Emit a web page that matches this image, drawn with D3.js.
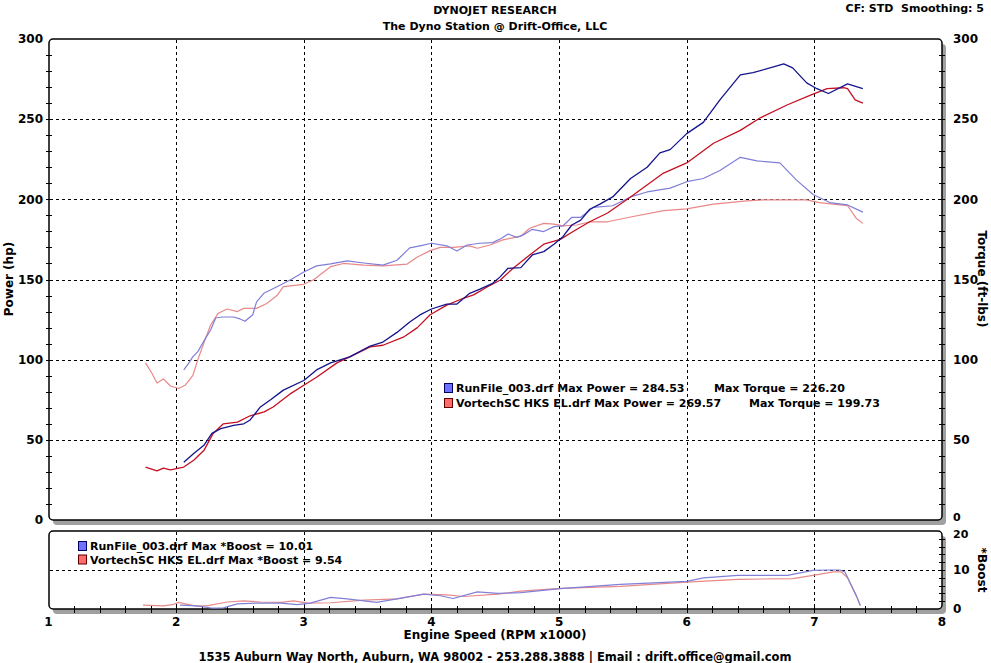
<!DOCTYPE html>
<html><head><meta charset="utf-8">
<script src="https://cdn.jsdelivr.net/npm/d3@7"></script>
<style>
html,body{margin:0;padding:0;background:#fff;}
svg{display:block;}
text{font-family:"DejaVu Sans",Verdana,sans-serif;font-weight:bold;fill:#000;}
</style></head>
<body><svg id="c" width="991" height="663"></svg>
<script>
// ---- data (rpm x1000, value) ----
const runHpRpm = [2.06,2.14,2.22,2.28,2.35,2.45,2.53,2.58,2.66,2.74,2.84,3.0,3.10,3.21,3.36,3.52,3.62,3.73,3.83,3.91,4.0,4.12,4.2,4.30,4.38,4.48,4.54,4.60,4.70,4.79,4.88,4.96,5.03,5.10,5.17,5.24,5.32,5.42,5.56,5.69,5.79,5.87,6.0,6.13,6.26,6.42,6.52,6.68,6.76,6.83,6.94,7.02,7.11,7.26,7.38];
const runHp = [36,41.6,46.8,54,57,59,60,62.4,70.5,75,81,87,93.6,98,101.7,108.5,111,117,123.5,127.9,131.6,134.7,134.7,141.4,144,147.6,151.8,157,157.4,165.3,167.4,172,176.7,184,187,193.8,197,201.5,213,220,229,231,241,248,262,277.6,279,282.6,284.5,282,272.6,269,266,272,269];

const runTqRpm = [2.06,2.10,2.13,2.17,2.22,2.27,2.31,2.36,2.45,2.50,2.54,2.60,2.63,2.69,2.79,2.90,3.0,3.10,3.21,3.34,3.47,3.62,3.73,3.83,3.91,4.0,4.12,4.2,4.28,4.38,4.48,4.55,4.6,4.67,4.72,4.79,4.88,4.96,5.03,5.10,5.17,5.27,5.42,5.56,5.69,5.87,6.0,6.13,6.26,6.42,6.55,6.73,6.86,6.99,7.12,7.26,7.38];
const runTq = [93.6,98,101.7,105,112,118.5,126,126.6,126.6,125.4,124,128,136,141.6,145.5,150,154.7,158.5,159.7,161.6,160.3,159,162,169.7,171,172.6,171,167.8,171.5,172.6,173,175.7,178.4,176.3,177.8,181.3,179.9,183,183.4,188.8,188.8,195,196,201.5,204.6,207,211,213,218,226.2,224,222.7,212,203,198,196.5,192];

const vorHpRpm = [1.76,1.85,1.90,1.955,2.06,2.14,2.22,2.29,2.37,2.48,2.58,2.69,2.76,2.90,3.0,3.10,3.26,3.36,3.52,3.62,3.78,3.89,3.99,4.12,4.25,4.33,4.44,4.54,4.64,4.77,4.88,5.01,5.11,5.24,5.38,5.56,5.81,6.0,6.21,6.42,6.58,6.79,6.97,7.10,7.23,7.26,7.32,7.38];
const vorHp = [33,30.6,32.4,31.2,33,37.4,43.7,54,60,61,65,67.4,70.5,79,84,89,98,101.7,108,109,114,120,128,134,138.3,140.4,145.5,149.7,157,165.3,172,175,179.9,186,191.5,201.5,216,222.7,235,243,251,259,265,269,269.6,269,262,260];

const vorTqRpm = [1.76,1.81,1.85,1.90,1.955,2.02,2.07,2.13,2.17,2.22,2.27,2.33,2.40,2.48,2.53,2.63,2.71,2.79,2.84,3.0,3.08,3.21,3.31,3.47,3.62,3.81,3.89,3.99,4.07,4.17,4.30,4.36,4.46,4.56,4.70,4.77,4.88,4.96,5.03,5.14,5.24,5.38,5.56,5.82,6.0,6.21,6.47,6.60,6.94,7.04,7.20,7.26,7.33,7.38];
const vorTq = [98,91.5,85.5,88,83.6,82,84,90,100,111,121.6,129,131.6,130,132,132,135,140,145.5,147,150,158,160,159,158.5,159.6,164,168,170,170,171,169.5,171.5,174.7,177,182,185,184.5,183.4,184,186,186,189,193,194,197,199,199.7,199.7,198,196.5,196,188,185];

const runBoostRpm = [2.03,2.16,2.29,2.37,2.48,2.63,2.82,2.95,3.05,3.21,3.34,3.57,3.73,3.94,4.07,4.17,4.36,4.52,4.70,5.01,5.48,6.0,6.13,6.40,6.79,6.99,7.12,7.20,7.24,7.28,7.33,7.36];
const runBoost = [1.0,0.8,0.2,0.3,1.3,1.5,1.5,1.1,1.5,3.0,2.6,1.7,2.6,3.8,3.4,2.7,4.4,4.0,4.2,5.2,6.3,7.1,8.0,8.6,8.6,9.9,10.0,10.0,9.5,6.7,3.3,0.9];
const vorBoostRpm = [1.74,1.9,1.97,2.02,2.09,2.15,2.24,2.40,2.53,2.66,2.82,2.92,3.03,3.21,3.47,3.73,3.94,4.12,4.25,4.52,4.70,5.01,5.48,6.0,6.40,6.83,6.99,7.15,7.21,7.26,7.33,7.36];
const vorBoost = [1.0,0.8,1.1,1.7,1.2,0.8,0.8,1.8,2.1,1.8,1.7,2.1,1.5,1.6,2.3,2.6,3.8,3.6,3.2,3.8,4.6,5.3,5.8,6.9,7.6,7.8,8.6,9.5,9.54,8.0,3.3,0.9];

const xTicks = [1,2,3,4,5,6,7,8];
const powerTicks = [0,50,100,150,200,250,300];
const boostTicks = [0,10,20];
const legendMain = [
  ["RunFile_003.drf Max Power = 284.53", "Max Torque = 226.20"],
  ["VortechSC HKS EL.drf Max Power = 269.57", "Max Torque = 199.73"]
];
const legendBoost = ["RunFile_003.drf Max *Boost = 10.01", "VortechSC HKS EL.drf Max *Boost = 9.54"];

// ---- layout ----
const svg = d3.select("#c");
const L = 49, R = 942, T = 39, B = 520, BT = 531, BB = 609;
const x = d3.scaleLinear().domain([1,8]).range([48.5, 942]);
const y = d3.scaleLinear().domain([0,300]).range([B, T]);
const yb = d3.scaleLinear().domain([0,20]).range([BB, BT]);

const C = {runHp:"#14148c", runTq:"#7e7ed8", vorHp:"#c41022", vorTq:"#e88888", runB:"#8080d8", vorB:"#e88a8a"};

function panel(top, bottom){
  svg.append("rect").attr("x",L+4).attr("y",top+5).attr("width",R-L).attr("height",bottom-top)
    .attr("rx",4).attr("fill","#a0a0a0");
  svg.append("rect").attr("x",L).attr("y",top).attr("width",R-L).attr("height",bottom-top)
    .attr("rx",4).attr("fill","#fff").attr("stroke","#000").attr("stroke-width",1.5);
}
panel(T,B);
panel(BT,BB);

// grid
const g = svg.append("g").attr("stroke","#000").attr("stroke-width",1).attr("stroke-dasharray","3,3");
xTicks.filter(d=>d>1&&d<8).forEach(d=>{
  g.append("line").attr("x1",Math.round(x(d))+0.5).attr("x2",Math.round(x(d))+0.5).attr("y1",T+1).attr("y2",B-1);
  g.append("line").attr("x1",Math.round(x(d))+0.5).attr("x2",Math.round(x(d))+0.5).attr("y1",BT+1).attr("y2",BB-1);
});
powerTicks.filter(d=>d>0&&d<300).forEach(d=>{
  g.append("line").attr("x1",L+1).attr("x2",R-1).attr("y1",Math.round(y(d))+0.5).attr("y2",Math.round(y(d))+0.5);
});
g.append("line").attr("x1",L+1).attr("x2",R-1).attr("y1",Math.round(yb(10))+0.5).attr("y2",Math.round(yb(10))+0.5);

// minor ticks
const tk = svg.append("g").attr("stroke","#000").attr("stroke-width",1);
d3.range(0,301,10).forEach(d=>{
  const yy = Math.round(y(d))+0.5;
  if(d>0 && d<300){
    tk.append("line").attr("x1",L-3).attr("x2",L+3).attr("y1",yy).attr("y2",yy);
    tk.append("line").attr("x1",R-3).attr("x2",R+3).attr("y1",yy).attr("y2",yy);
  }
});
d3.range(2,20,2).forEach(d=>{
  const yy = Math.round(yb(d))+0.5;
  tk.append("line").attr("x1",R-3).attr("x2",R+3).attr("y1",yy).attr("y2",yy);
});
d3.range(1.2,8,0.2).forEach(d=>{
  const xx = Math.round(x(d))+0.5;
  tk.append("line").attr("x1",xx).attr("x2",xx).attr("y1",BB-3).attr("y2",BB+4);
});

// lines
const line = (sx, sy) => d3.line().x(d=>sx(d[0])).y(d=>sy(d[1]));
function draw(rpm, vals, sy, color, w){
  svg.append("path").datum(d3.zip(rpm, vals)).attr("d", line(x, sy))
    .attr("fill","none").attr("stroke",color).attr("stroke-width",w).attr("stroke-linejoin","round");
}
draw(vorTqRpm, vorTq, y, C.vorTq, 1.2);
draw(runTqRpm, runTq, y, C.runTq, 1.2);
draw(vorHpRpm, vorHp, y, C.vorHp, 1.3);
draw(runHpRpm, runHp, y, C.runHp, 1.3);
draw(vorBoostRpm, vorBoost, yb, C.vorB, 1.2);
draw(runBoostRpm, runBoost, yb, C.runB, 1.2);

// axis labels
const fs = 12;
powerTicks.forEach(d=>{
  svg.append("text").attr("x",43).attr("y",y(d)).attr("dy","0.35em").attr("text-anchor","end").attr("font-size",fs).text(d);
  svg.append("text").attr("x",953).attr("y",d===0?y(d)-3:y(d)).attr("dy","0.35em").attr("font-size",d===0?11:fs).text(d);
});
boostTicks.forEach(d=>{
  svg.append("text").attr("x",953).attr("y",d===20?yb(d)+3:yb(d)).attr("dy","0.35em").attr("font-size",d===20?11:fs).text(d);
});
xTicks.forEach(d=>{
  svg.append("text").attr("x",x(d)).attr("y",622).attr("dy","0.35em").attr("text-anchor","middle").attr("font-size",fs).text(d);
});

svg.append("text").attr("transform","translate(13,279) rotate(-90)").attr("text-anchor","middle").attr("font-size",fs).text("Power (hp)");
svg.append("text").attr("transform","translate(978,279) rotate(90)").attr("text-anchor","middle").attr("font-size",fs).text("Torque (ft-lbs)");
svg.append("text").attr("transform","translate(978,570) rotate(90)").attr("text-anchor","middle").attr("font-size",fs).text("*Boost");
svg.append("text").attr("x",495).attr("y",639).attr("text-anchor","middle").attr("font-size",fs).text("Engine Speed (RPM x1000)");
svg.append("text").attr("x",495).attr("y",661).attr("text-anchor","middle").attr("font-size",11.5).text("1535 Auburn Way North, Auburn, WA 98002 - 253.288.3888 | Email : drift.office@gmail.com");

// titles
svg.append("text").attr("x",495).attr("y",14).attr("text-anchor","middle").attr("font-size",11).text("DYNOJET RESEARCH");
svg.append("text").attr("x",495).attr("y",30).attr("text-anchor","middle").attr("font-size",11).text("The Dyno Station @ Drift-Office, LLC");
svg.append("text").attr("x",984).attr("y",12).attr("text-anchor","end").attr("font-size",11).text("CF: STD  Smoothing: 5").style("white-space","pre");

// legends
const sw = [[C.runHp,"#7070ff"],[C.vorHp,"#ff6a6a"]];
legendMain.forEach((r,i)=>{
  const yy = 383 + i*15;
  svg.append("rect").attr("x",444.5).attr("y",yy+0.5).attr("width",8).attr("height",9).attr("fill",sw[i][1]).attr("stroke",i?"#600000":"#000060");
  svg.append("text").attr("x",456).attr("y",yy+9).attr("font-size",11).text(r[0]);
  svg.append("text").attr("x",i?749:714).attr("y",yy+9).attr("font-size",11).text(r[1]);
});
legendBoost.forEach((t,i)=>{
  const yy = 541 + i*13.5;
  svg.append("rect").attr("x",78.5).attr("y",yy+0.5).attr("width",8).attr("height",9).attr("fill",sw[i][1]).attr("stroke",i?"#600000":"#000060");
  svg.append("text").attr("x",90).attr("y",yy+9).attr("font-size",11).text(t);
});
</script></body></html>
